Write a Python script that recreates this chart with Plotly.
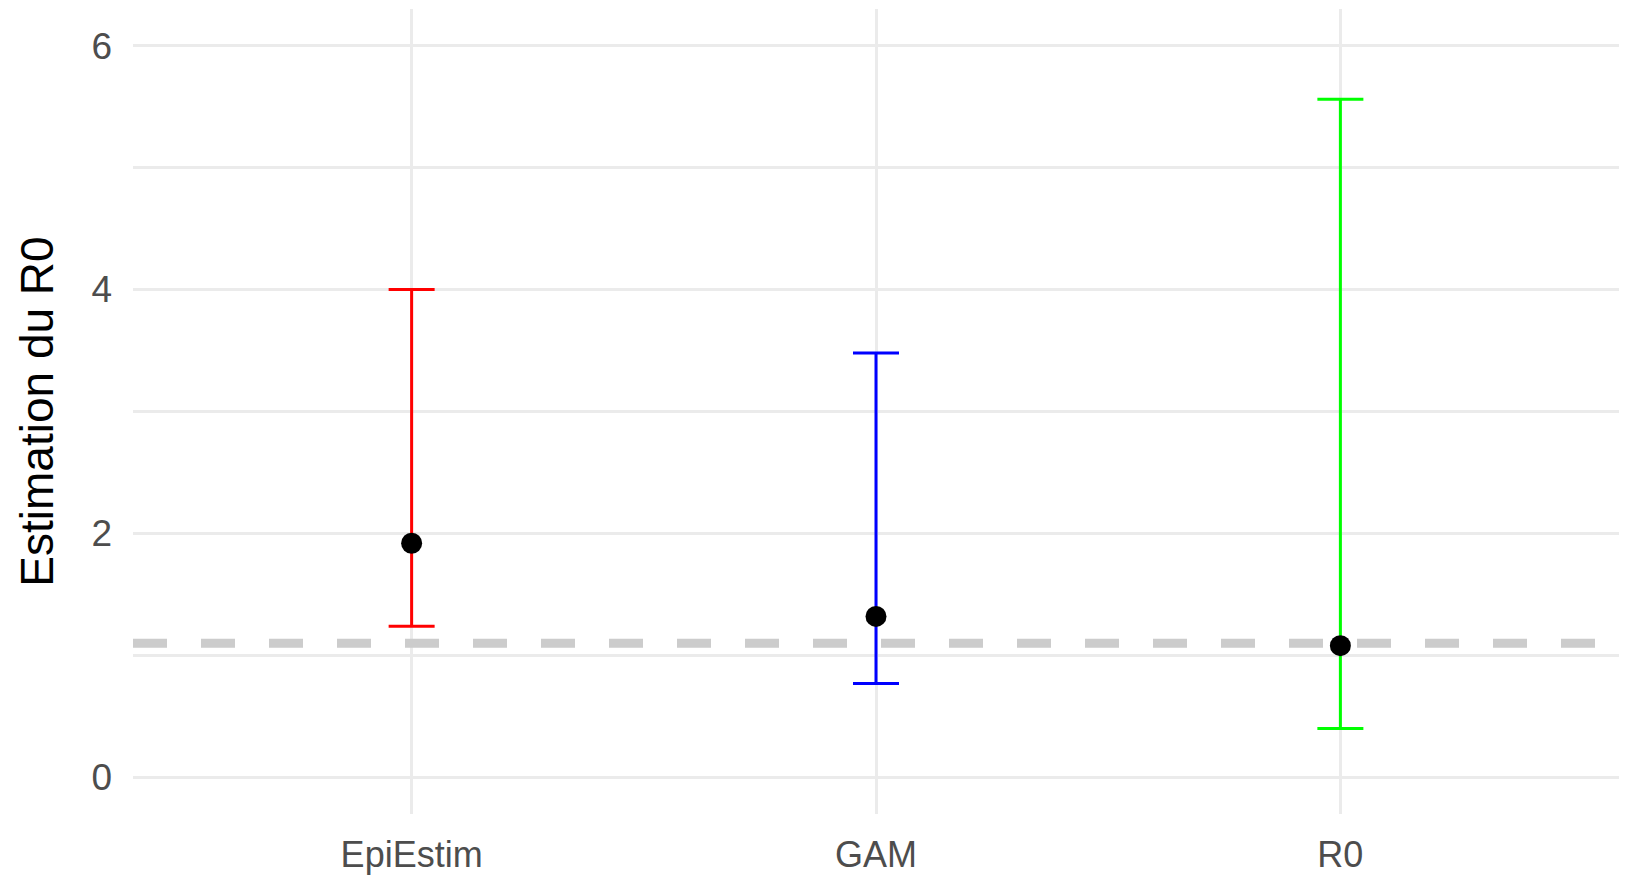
import plotly.graph_objects as go

methods = ["EpiEstim", "GAM", "R0"]
estimates = [1.92, 1.32, 1.08]
lower = [1.24, 0.77, 0.40]
upper = [4.00, 3.48, 5.56]
bar_colors = ["#FF0000", "#0000FF", "#00FF00"]
ref_value = 1.1
y_tick_vals = [0, 2, 4, 6]

fig = go.Figure()

# reference dashed line, on a hidden base x axis spanning the full panel width (0..1)
fig.add_trace(go.Scatter(
    x=[0, 1], y=[ref_value, ref_value], mode="lines", xaxis="x", yaxis="y",
    line=dict(color="#CCCCCC", width=9, dash="34px,34px"),
    showlegend=False, hoverinfo="skip",
))

for m, e, lo, up, c in zip(methods, estimates, lower, upper, bar_colors):
    fig.add_trace(go.Scatter(
        x=[m], y=[e], mode="markers", xaxis="x2", yaxis="y",
        marker=dict(color="black", size=21),
        error_y=dict(type="data", symmetric=False, array=[up - e], arrayminus=[e - lo],
                     color=c, thickness=3, width=23),
        showlegend=False, hoverinfo="skip",
    ))

font_family = "Liberation Sans, Arial, sans-serif"
fig.update_layout(
    width=1631, height=875,
    margin=dict(l=133, r=12, t=9, b=61, autoexpand=False),
    plot_bgcolor="white", paper_bgcolor="white",
    font=dict(family=font_family),
    xaxis=dict(range=[0, 1], visible=False, showgrid=False, zeroline=False, fixedrange=True),
    xaxis2=dict(type="category", categoryorder="array", categoryarray=methods,
                overlaying="x", side="bottom",
                range=[-0.6, 2.6], showgrid=True, gridcolor="#EBEBEB", gridwidth=3,
                zeroline=False, showline=False, ticks="",
                tickfont=dict(size=36, color="#4D4D4D"), ticklabelstandoff=16),
    yaxis=dict(range=[-0.3, 6.3], tickvals=y_tick_vals, showgrid=True,
               gridcolor="#EBEBEB", gridwidth=3, zeroline=False, showline=False, ticks="",
               minor=dict(dtick=1, tick0=0, showgrid=True, gridcolor="#EBEBEB", gridwidth=3),
               tickfont=dict(size=37, color="#4D4D4D"), ticklabelstandoff=20,
               title=dict(text="Estimation du R0", font=dict(size=46, color="black"), standoff=23)),
)

fig.write_html("out.html", config={"displayModeBar": False})
